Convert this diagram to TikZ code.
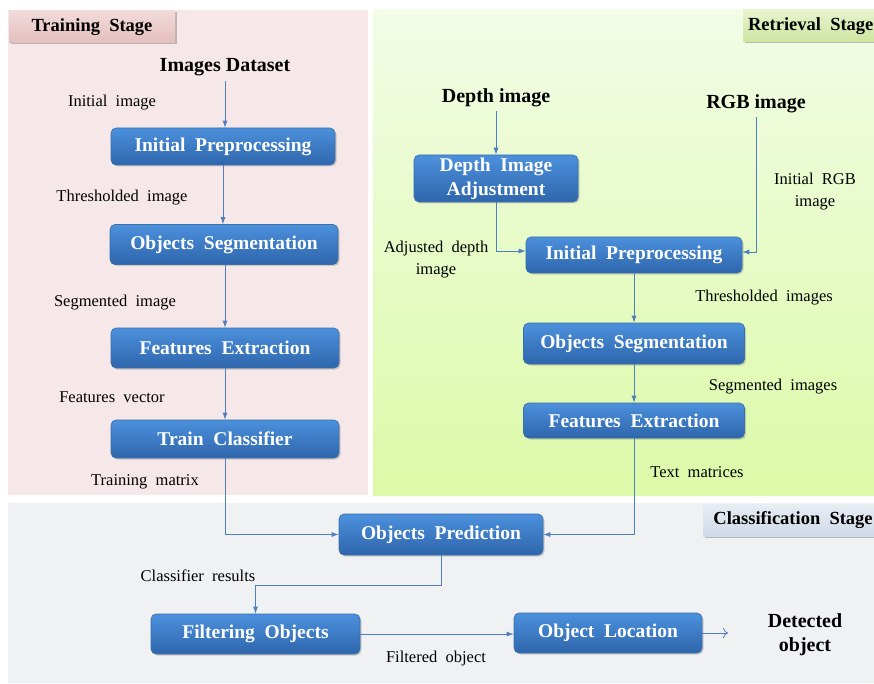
\documentclass[tikz,border=0pt]{standalone}
\usepackage{fontspec}
\setmainfont{Liberation Serif}
\usetikzlibrary{arrows.meta,shadows}
\definecolor{pinkbg}{HTML}{F6E8E8}
\definecolor{greentop}{HTML}{F2FCE6}
\definecolor{greenbot}{HTML}{DCFAA8}
\definecolor{graybg}{HTML}{F0F1F3}
\definecolor{boxtop}{HTML}{4C90DC}
\definecolor{boxbot}{HTML}{2E66AC}
\definecolor{boxedge}{HTML}{3A6FA8}
\definecolor{arrowc}{HTML}{4F7FC0}
\tikzset{
  x=1pt,y=-1pt,
  procbox/.style={rounded corners=5pt, top color=boxtop, bottom color=boxbot, draw=boxedge, line width=0.6pt,
    text=white, font=\fontsize{19.5}{21}\selectfont\bfseries, align=center, inner sep=0pt,
    drop shadow={shadow xshift=1.5pt,shadow yshift=-1.5pt,opacity=0.35}},
  lbl/.style={font=\fontsize{16.5}{19}\selectfont, align=center, text=black, yshift=-2pt},
  ttl/.style={font=\fontsize{20}{23}\selectfont\bfseries, align=center, text=black, yshift=-2pt},
  flow/.style={draw=arrowc, line width=0.8pt, -{Latex[length=7pt,width=5pt]}},
  stagelbl/.style={font=\fontsize{18.5}{21}\selectfont\bfseries, inner sep=0pt, text=black,
    drop shadow={shadow xshift=1.5pt,shadow yshift=-1.5pt,opacity=0.5}},
}
\begin{document}
\begin{tikzpicture}
\useasboundingbox (0,0) rectangle (874,684);
\fill[white] (0,0) rectangle (874,684);
% backgrounds
\fill[pinkbg] (8,10) rectangle (368,495);
\shade[top color=greentop, bottom color=greenbot] (373,10) rectangle (874,495);
\fill[graybg] (8,503) rectangle (874,683);
% stage labels
\node[stagelbl, top color={rgb,255:red,242;green,218;blue,218}, bottom color={rgb,255:red,228;green,190;blue,190}, minimum width=166pt, minimum height=32pt] (tstage) at (92,27) {Training\ \ Stage};
\node[stagelbl, top color={rgb,255:red,232;green,244;blue,205}, bottom color={rgb,255:red,205;green,228;blue,160}, minimum width=132pt, minimum height=32pt, anchor=west] (rstage) at (743,26) {\,Retrieval\ \ Stage};
\node[stagelbl, top color={rgb,255:red,232;green,237;blue,245}, bottom color={rgb,255:red,208;green,218;blue,232}, minimum width=172pt, minimum height=32pt, anchor=west] (cstage) at (703,520) {\ \,Classification\ \ Stage};
% training
\node[ttl] (dataset) at (225,65) {Images Dataset};
\node[procbox, minimum width=224pt, minimum height=37pt] (ip1) at (223,146.5) {Initial\ \ Preprocessing};
\node[procbox, minimum width=228pt, minimum height=40pt] (os1) at (224,244.5) {Objects\ \ Segmentation};
\node[procbox, minimum width=228pt, minimum height=40pt] (fe1) at (225,348) {Features\ \ Extraction};
\node[procbox, minimum width=228pt, minimum height=38pt] (tc) at (225,439) {Train\ \ Classifier};
\node[lbl] (l1) at (112,101) {Initial\ \ image};
\node[lbl] (l2) at (122,196) {Thresholded\ \ image};
\node[lbl] (l3) at (115,301) {Segmented\ \ image};
\node[lbl] (l4) at (112,395) {Features\ \ vector};
\node[lbl] (l5) at (145,480) {Training\ \ matrix};
% retrieval
\node[ttl] (depth) at (496,96) {Depth image};
\node[ttl] (rgb) at (756,102) {RGB image};
\node[procbox, minimum width=164pt, minimum height=47pt, font=\fontsize{19.5}{24}\selectfont\bfseries] (dia) at (496,178.5) {Depth\ \ Image\\Adjustment};
\node[procbox, minimum width=216pt, minimum height=36pt] (ip2) at (634,255) {Initial\ \ Preprocessing};
\node[procbox, minimum width=221pt, minimum height=41pt] (os2) at (634,343.5) {Objects\ \ Segmentation};
\node[procbox, minimum width=221pt, minimum height=35pt] (fe2) at (634,420.5) {Features\ \ Extraction};
\node[lbl, font=\fontsize{16.5}{22}\selectfont] (l6) at (815,190) {Initial\ \ RGB\\image};
\node[lbl, font=\fontsize{16.5}{22}\selectfont] (l7) at (436,258) {Adjusted\ \ depth\\image};
\node[lbl] (l8) at (764,296) {Thresholded\ \ images};
\node[lbl] (l9) at (773,385) {Segmented\ \ images};
\node[lbl] (l10) at (697,470) {Text\ \ matrices};
% classification
\node[procbox, minimum width=204pt, minimum height=41pt] (op) at (441,534.5) {Objects\ \ Prediction};
\node[procbox, minimum width=209pt, minimum height=40pt] (fo) at (255.5,634) {Filtering\ \ Objects};
\node[procbox, minimum width=188pt, minimum height=40pt] (ol) at (608,633) {Object\ \ Location};
\node[ttl, font=\fontsize{20}{24}\selectfont\bfseries] (det) at (805,633) {Detected\\object};
\node[lbl] (l11) at (198,574) {Classifier\ \ results};
\node[lbl] (l12) at (436,657) {Filtered\ \ object};
\coordinate (detend) at (728,633);
% arrows
\draw[flow] ([yshift=-2pt]dataset.south -| ip1.north) ++(2,0) -- ([xshift=2pt]ip1.north);
\draw[flow] (ip1.south) -- (os1.north -| ip1.south);
\draw[flow] ([xshift=1pt]os1.south) -- ([xshift=1pt]os1.south |- fe1.north);
\draw[flow] (fe1.south) -- (tc.north);
\draw[flow] (tc.south) |- (op.west);
\draw[flow] (depth.south) -- (dia.north);
\draw[flow] (dia.south) |- ([yshift=4pt]ip2.west);
\draw[flow] (rgb.south) |- ([yshift=3pt]ip2.east);
\draw[flow] (ip2.south) -- (os2.north);
\draw[flow] (os2.south) -- (fe2.north);
\draw[flow] (fe2.south) |- (op.east);
\draw[flow] (op.south) -- ++(0,30) -| (fo.north);
\draw[flow] (fo.east) -- ([yshift=-1pt]ol.west);
\draw[draw=arrowc, line width=0.8pt, -{To[length=5pt,width=10pt]}] (ol.east) -- (detend);
\end{tikzpicture}
\end{document}
